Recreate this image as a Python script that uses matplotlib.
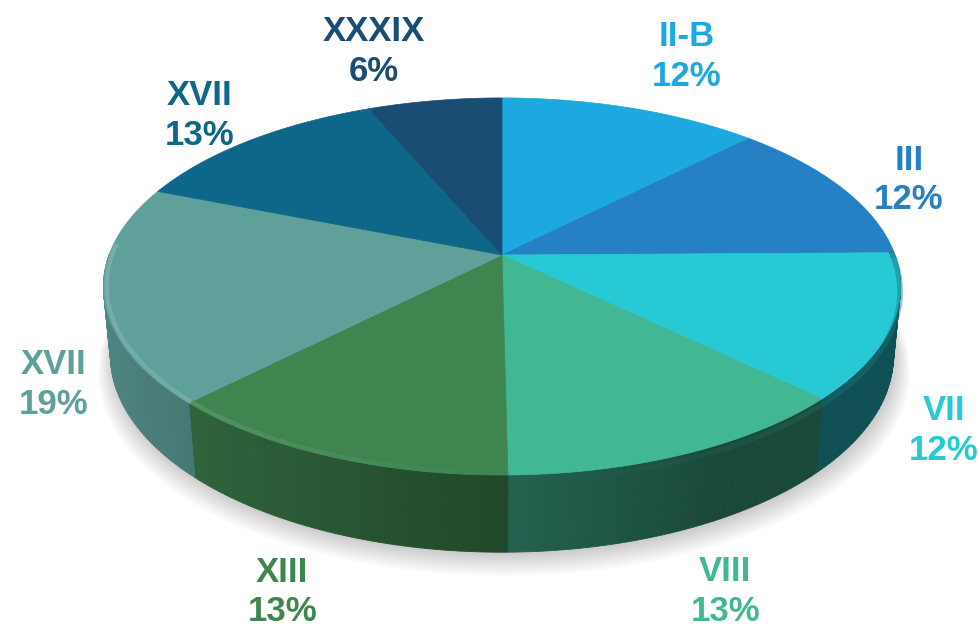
import numpy as np
import matplotlib.pyplot as plt
from matplotlib.colors import to_rgb

# slice data, clockwise from 12 o'clock (percent)
labels = ['II-B', 'III', 'VII', 'VIII', 'XIII', 'XVII', 'XVII', 'XXXIX']
shares = [12.4, 12.4, 12.4, 12.6, 12.6, 18.6, 12.6, 6.4]
colors = ['#1DA9DF', '#2680C4', '#27C9D5', '#42B794',
          '#3E8550', '#5FA09B', '#0E6688', '#1A4D74']

# layout of the tilted pie (pixels)
W, H = 979, 630
CX, CY = 502, 255
ELEV = np.radians(27.8)
DIST = 5.3
FOC = 2083
THICK = 0.2
label_nudge = [(28, -21), (-11, 8), (4, 12), (-13, -2),
               (3, -5), (2, 10), (5, 0), (-47, -17)]


def project(r, t, z):
    s, c = np.sin(ELEV), np.cos(ELEV)
    x = r * np.cos(t)
    y = r * np.sin(t)
    yc = y * s + z * c
    depth = DIST + y * c - z * s
    return CX + FOC * x / depth, CY - FOC * yc / depth


def shade(col, f):
    return tuple(np.clip(np.array(to_rgb(col)) * f, 0, 1))


def lighten(col, f):
    c = np.array(to_rgb(col))
    return tuple(c + (1 - c) * f)


fig = plt.figure(figsize=(W / 100, H / 100), dpi=100)
ax = fig.add_axes([0, 0, 1, 1])
ax.set_xlim(0, W)
ax.set_ylim(H, 0)
ax.axis('off')

# soft shadow under the pie
tt = np.linspace(0, 2 * np.pi, 300)
for k in range(10):
    u, v = project(1.0 + 0.004 * k, tt, -THICK)
    ax.fill(u + 2, v + 3 + 1.2 * k, color='black', alpha=0.018, lw=0, zorder=1)

bounds = 90 - np.cumsum([0] + shares) * 3.6
angles = [(np.radians(bounds[i]), np.radians(bounds[i + 1])) for i in range(len(shares))]

# side walls, front half only, drawn as thin strips for the shading
for (a0, a1), col in zip(angles, colors):
    lo, hi = min(a0, a1), max(a0, a1)
    ts = np.linspace(lo, hi, max(int(np.degrees(hi - lo)), 2) + 1)
    for ta, tb in zip(ts[:-1], ts[1:]):
        tm = 0.5 * (ta + tb)
        if np.sin(tm) >= 0:
            continue
        f = max(0.40, 0.54 - 0.30 * np.cos(tm))
        seg = np.linspace(ta, tb, 3)
        u1, v1 = project(1.0, seg, 0)
        u2, v2 = project(1.0, seg[::-1], -THICK)
        c = shade(col, f)
        ax.fill(np.r_[u1, u2], np.r_[v1, v2], color=c, ec=c, lw=0.6, zorder=2)

# top faces
for (a0, a1), col in zip(angles, colors):
    ts = np.linspace(a0, a1, 80)
    u, v = project(1.0, ts, 0)
    cu, cv = project(0.0, 0.0, 0)
    ax.fill(np.r_[cu, u], np.r_[cv, v], color=col, ec=col, lw=0.5, zorder=3)

# rounded rim: light on the left, dark towards the right
for (a0, a1), col in zip(angles, colors):
    lo, hi = min(a0, a1), max(a0, a1)
    ts = np.linspace(lo, hi, max(int(np.degrees(hi - lo)), 2) + 1)
    for ta, tb in zip(ts[:-1], ts[1:]):
        tm = 0.5 * (ta + tb)
        if np.sin(tm) >= 0.05:
            continue
        w = -np.cos(tm)
        seg = np.linspace(ta, tb, 3)
        u, v = project(0.992, seg, 0)
        if w > 0:
            ax.plot(u, v, color=lighten(col, 0.2 * w), lw=3, alpha=0.8,
                    solid_capstyle='butt', zorder=4)
        else:
            u2, v2 = project(1.0, seg, -0.015)
            ax.plot(u2, v2, color=shade(col, 0.6), lw=4, alpha=0.5 * (-w),
                    solid_capstyle='butt', zorder=4)

# labels
for (a0, a1), lab, val, col, (dx, dy) in zip(angles, labels, shares, colors, label_nudge):
    tm = 0.5 * (a0 + a1)
    z = -THICK if np.sin(tm) < 0 else 0
    u, v = project(1.25, tm, z)
    u = min(max(u, 52), 940)
    ax.text(u + dx, v + dy, f'{lab}\n{val:.0f}%', ha='center', va='center',
            color=col, fontsize=25, fontweight='bold', family='Liberation Sans',
            linespacing=1.25, zorder=5)

fig.savefig('out.png', dpi=100)
